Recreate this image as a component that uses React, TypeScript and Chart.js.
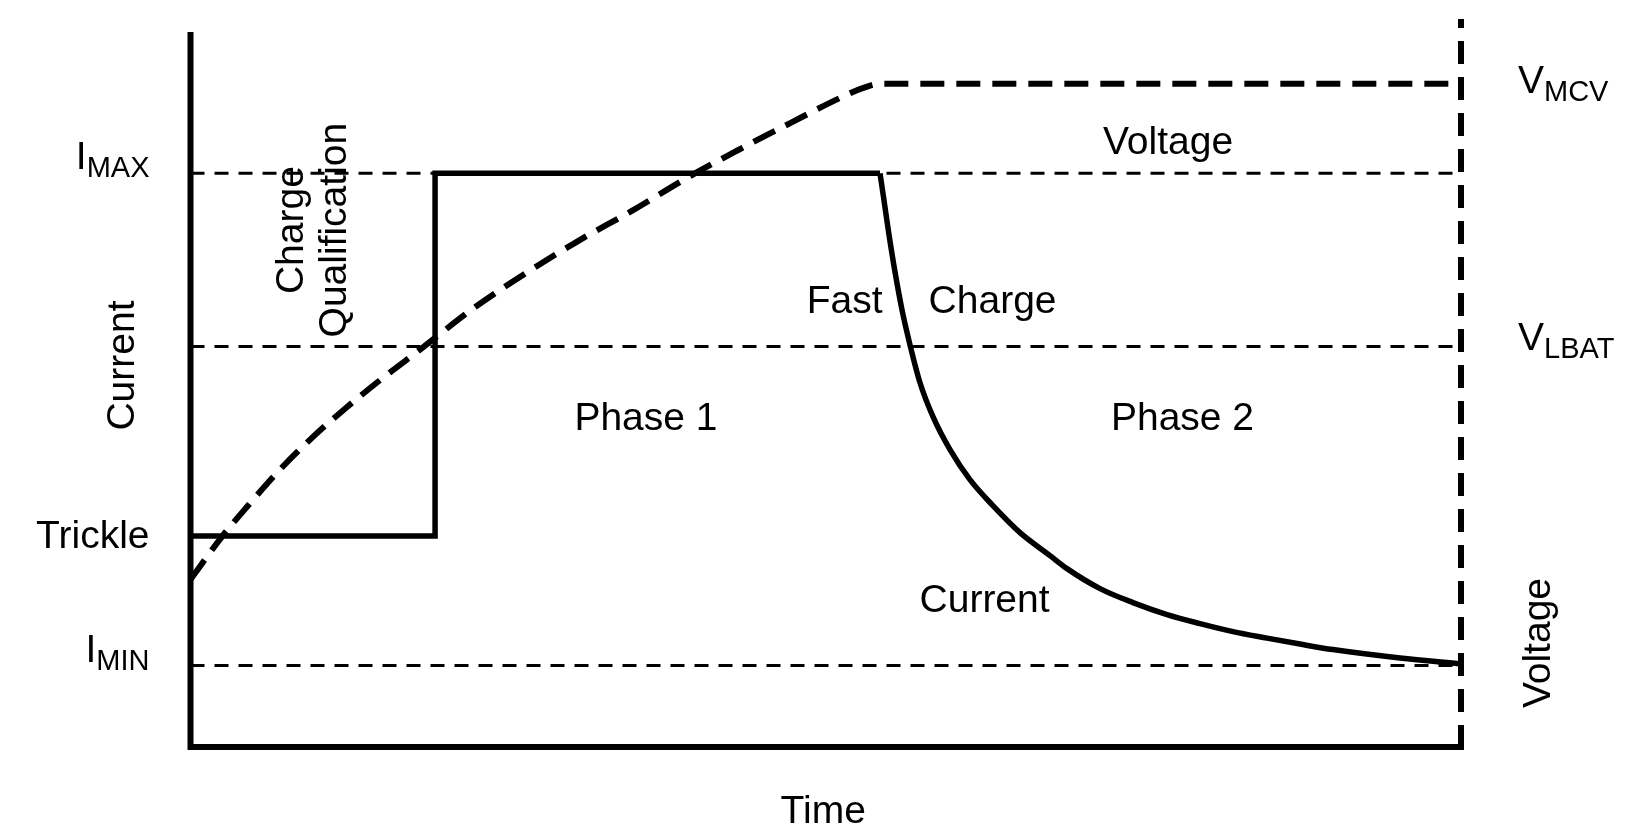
import { useEffect, useRef } from 'react';
import { Chart, registerables } from 'chart.js';

Chart.register(...registerables);

// ---- Data (time axis 0..100, level axis 0..100, arbitrary units) ----
const voltageTime = [0, 2.48, 4.45, 7.04, 9.64, 12.32, 14.92, 18.3, 22.3, 26.5, 30.6, 34.7, 38.9, 43.0, 47.2, 51.3, 52.9, 54.3, 100];
const voltageLevel = [23.0, 28.9, 33.0, 38.1, 42.6, 46.7, 50.4, 54.9, 60.3, 65.2, 69.6, 73.6, 78.0, 81.9, 85.7, 89.3, 90.5, 91.1, 91.1];

const currentStepTime = [0, 19.25, 19.25, 54.27];
const currentStepLevel = [29.0, 29.0, 78.8, 78.8];

const currentTaperTime = [54.27, 54.58, 54.98, 55.45, 56.0, 56.63, 57.42, 58.44, 59.78, 61.35, 63.16, 65.29, 67.65, 68.99, 71.59, 74.18, 76.86, 79.46, 82.05, 84.73, 87.33, 89.92, 95.2, 100];
const currentTaperLevel = [78.8, 75.15, 70.35, 65.27, 60.06, 55.25, 50.03, 45.37, 40.84, 36.72, 33.15, 29.44, 26.29, 24.5, 21.76, 19.84, 18.19, 16.95, 15.85, 14.96, 14.14, 13.38, 12.22, 11.4];

// Left (current) tick labels
const currentTickValues = [78.8, 29.0, 11.2];
const currentTickMain = ['I', 'Trickle', 'I'];
const currentTickSub = ['MAX', '', 'MIN'];

// Right (voltage) tick labels
const voltageTickValues = [91.1, 55.0];
const voltageTickMain = ['V', 'V'];
const voltageTickSub = ['MCV', 'LBAT'];

// Guide lines (thin dashed)
const guideLevels = [78.8, 55.0, 11.2];

// Region labels
const regionText = ['Phase 1', 'Phase 2', 'Fast', 'Charge', 'Voltage', 'Current'];
const regionX = [35.85, 78.08, 51.48, 63.13, 76.94, 62.5];
const regionY = [43.58, 43.58, 59.64, 59.64, 81.47, 18.6];

const qualText = ['Charge', 'Qualification'];
const qualBaselineX = [8.86, 12.24];
const qualCenterY = 71.0;

const AXIS_TOP = 98.2;
const FONT = '"Liberation Sans", Arial, Helvetica, sans-serif';

// label layout (pixel offsets, style only)
const currentTickOffset = [-4, 12, -3];
const voltageTickOffset = [9, 3];

const zip = (xs: number[], ys: number[]) => xs.map((x, i) => ({ x, y: ys[i] }));

const overlayPlugin = {
  id: 'overlay',
  afterDatasetsDraw(chart: any) {
    const { ctx, chartArea } = chart;
    const xs = chart.scales.x;
    const ys = chart.scales.y;
    const px = (v: number) => xs.getPixelForValue(v);
    const py = (v: number) => ys.getPixelForValue(v);
    ctx.save();
    ctx.strokeStyle = '#000';
    ctx.fillStyle = '#000';
    ctx.lineCap = 'butt';
    ctx.lineJoin = 'miter';

    // left + bottom axis (solid)
    ctx.lineWidth = 6;
    ctx.setLineDash([]);
    ctx.beginPath();
    ctx.moveTo(px(0), py(AXIS_TOP));
    ctx.lineTo(px(0), py(0));
    ctx.lineTo(px(100) + 3, py(0));
    ctx.stroke();

    // right axis (dashed, drawn upward from the bottom)
    ctx.setLineDash([23, 13]);
    ctx.beginPath();
    ctx.moveTo(px(100), py(0) + 1);
    ctx.lineTo(px(100), py(100));
    ctx.stroke();
    ctx.setLineDash([]);

    // left tick labels
    const mainFont = `39px ${FONT}`;
    const subFont = `29px ${FONT}`;
    const leftEdge = chartArea.left - 41;
    currentTickValues.forEach((v, i) => {
      const base = py(v) + currentTickOffset[i];
      ctx.font = subFont;
      const subW = currentTickSub[i] ? ctx.measureText(currentTickSub[i]).width : 0;
      ctx.font = mainFont;
      const mainW = ctx.measureText(currentTickMain[i]).width;
      ctx.textAlign = 'left';
      ctx.textBaseline = 'alphabetic';
      ctx.fillText(currentTickMain[i], leftEdge - subW - mainW, base);
      if (currentTickSub[i]) {
        ctx.font = subFont;
        ctx.fillText(currentTickSub[i], leftEdge - subW, base + 8);
      }
    });

    // right tick labels
    const rightStart = chartArea.right + 57;
    voltageTickValues.forEach((v, i) => {
      const base = py(v) + voltageTickOffset[i];
      ctx.font = mainFont;
      const mainW = ctx.measureText(voltageTickMain[i]).width;
      ctx.textAlign = 'left';
      ctx.fillText(voltageTickMain[i], rightStart, base);
      ctx.font = subFont;
      ctx.fillText(voltageTickSub[i], rightStart + mainW, base + 8);
    });

    // region labels
    ctx.font = mainFont;
    ctx.textAlign = 'center';
    ctx.textBaseline = 'alphabetic';
    regionText.forEach((t, i) => {
      ctx.fillText(t, px(regionX[i]), py(regionY[i]));
    });

    // rotated "Charge Qualification"
    qualText.forEach((t, i) => {
      ctx.save();
      ctx.translate(px(qualBaselineX[i]), py(qualCenterY));
      ctx.rotate(-Math.PI / 2);
      ctx.textAlign = 'center';
      ctx.fillText(t, 0, 0);
      ctx.restore();
    });

    // axis titles
    ctx.save();
    ctx.translate(chartArea.left - 56.5, py(52.4));
    ctx.rotate(-Math.PI / 2);
    ctx.textAlign = 'center';
    ctx.fillText('Current', 0, 0);
    ctx.restore();

    ctx.save();
    ctx.translate(chartArea.right + 89, py(14.28));
    ctx.rotate(-Math.PI / 2);
    ctx.textAlign = 'center';
    ctx.fillText('Voltage', 0, 0);
    ctx.restore();

    ctx.textAlign = 'center';
    ctx.fillText('Time', px(49.8), chartArea.bottom + 76);

    ctx.restore();
  },
};

export default function App() {
  const ref = useRef<HTMLCanvasElement>(null);
  useEffect(() => {
    const canvas = ref.current;
    if (!canvas) return;
    const guideSets = guideLevels.map((g) => ({
      label: 'guide',
      data: [
        { x: 0, y: g },
        { x: 100, y: g },
      ],
      borderColor: '#000',
      borderWidth: 3,
      borderDash: [14, 10],
      tension: 0,
      pointRadius: 0,
      fill: false,
    }));
    const chart = new Chart(canvas, {
      type: 'line',
      data: {
        datasets: [
          {
            label: 'Voltage',
            data: zip(voltageTime, voltageLevel),
            borderColor: '#000',
            borderWidth: 6,
            borderDash: [24, 12],
            cubicInterpolationMode: 'monotone',
            pointRadius: 0,
            fill: false,
          },
          {
            label: 'Current',
            data: zip(currentStepTime, currentStepLevel),
            borderColor: '#000',
            borderWidth: 5.5,
            tension: 0,
            pointRadius: 0,
            fill: false,
            borderJoinStyle: 'miter',
          },
          {
            label: 'Current taper',
            data: zip(currentTaperTime, currentTaperLevel),
            borderColor: '#000',
            borderWidth: 5.5,
            cubicInterpolationMode: 'monotone',
            pointRadius: 0,
            fill: false,
          },
          ...guideSets,
        ] as any,
      },
      options: {
        responsive: false,
        animation: false,
        devicePixelRatio: 1,
        events: [],
        layout: { padding: { left: 190.5, right: 190, top: 19, bottom: 92 } },
        plugins: { legend: { display: false }, tooltip: { enabled: false } },
        scales: {
          x: { type: 'linear', min: 0, max: 100, display: false },
          y: { type: 'linear', min: 0, max: 100, display: false },
        },
      },
      plugins: [overlayPlugin],
    });
    return () => chart.destroy();
  }, []);
  return (
    <div style={{ position: 'absolute', left: 0, top: 0, width: 1651, height: 839, background: '#fff' }}>
      <canvas ref={ref} width={1651} height={839} />
    </div>
  );
}
